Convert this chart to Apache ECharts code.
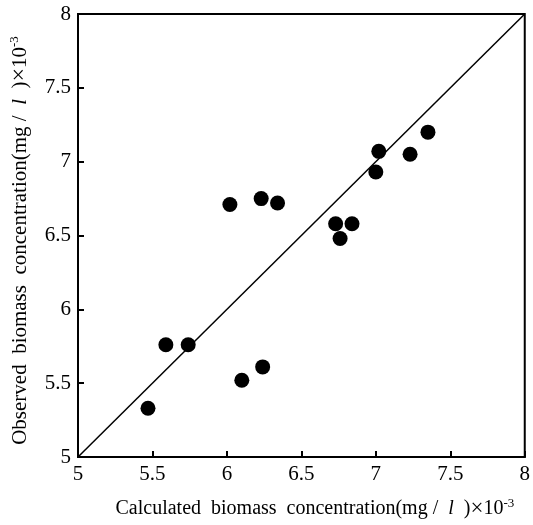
<!DOCTYPE html>
<html>
<head>
<meta charset="utf-8">
<script src="https://cdn.jsdelivr.net/npm/echarts@6/dist/echarts.min.js"></script>
<style>html,body{margin:0;padding:0;background:#fff;}#c{width:533px;height:525px;}</style>
</head>
<body>
<div id="c"></div>
<script>
const calculated = [5.47, 5.59, 5.74, 6.02, 6.10, 6.23, 6.24, 6.34, 6.73, 6.76, 6.84, 7.00, 7.02, 7.23, 7.35];
const observed   = [5.33, 5.76, 5.76, 6.71, 5.52, 6.75, 5.61, 6.72, 6.58, 6.48, 6.58, 6.93, 7.07, 7.05, 7.20];
const identityLine = [[5, 5], [8, 8]];
const xTicks = [5, 5.5, 6, 6.5, 7, 7.5, 8];
const yTicks = [5, 5.5, 6, 6.5, 7, 7.5, 8];

const points = calculated.map((x, i) => [x, observed[i]]);
const font = 'Liberation Serif';
const chart = echarts.init(document.getElementById('c'), null, {renderer: 'canvas'});
function richName(size) {
  return {
    t: {fontFamily: font, fontSize: size, color: '#000'},
    i: {fontFamily: font, fontSize: size, fontStyle: 'italic', color: '#000'},
    x: {fontFamily: font, fontSize: size + 3, color: '#000'},
    s: {fontFamily: font, fontSize: 13, color: '#000', padding: [0, 0, 10, 0]}
  };
}
chart.setOption({
  animation: false,
  grid: {left: 77, right: 7, top: 14, bottom: 68, show: true, borderColor: '#000', borderWidth: 2},
  xAxis: {
    type: 'value', min: 5, max: 8, interval: 0.5,
    axisLine: {lineStyle: {color: '#000', width: 2}},
    axisTick: {inside: true, length: 6, lineStyle: {color: '#000', width: 2}},
    splitLine: {show: false},
    axisLabel: {fontFamily: font, fontSize: 21, color: '#000', margin: 7,
      formatter: v => xTicks.includes(v) ? String(v) : ''},
    name: '{t|Calculated  biomass  concentration(mg /  }{i|l}{t|  )}{x|×}{t|10}{s|-3}',
    nameLocation: 'middle', nameGap: 40,
    nameTextStyle: {rich: richName(20), padding: [0, 0, 0, 27]}
  },
  yAxis: {
    type: 'value', min: 5, max: 8, interval: 0.5,
    axisLine: {lineStyle: {color: '#000', width: 2}},
    axisTick: {inside: true, length: 6, lineStyle: {color: '#000', width: 2}},
    splitLine: {show: false},
    axisLabel: {fontFamily: font, fontSize: 21, color: '#000', margin: 7,
      formatter: v => yTicks.includes(v) ? String(v) : ''},
    name: '{t|Observed  biomass  concentration(mg /  }{i|l}{t|  )}{x|×}{t|10}{s|-3}',
    nameLocation: 'middle', nameGap: 46, nameRotate: 90,
    nameTextStyle: {rich: richName(21), padding: [0, 10, 0, 0]}
  },
  series: [
    {type: 'line', data: identityLine, symbol: 'none', lineStyle: {color: '#000', width: 1.5}, silent: true},
    {type: 'scatter', data: points, symbolSize: 15, itemStyle: {color: '#000', opacity: 1}}
  ]
});
</script>
</body>
</html>
